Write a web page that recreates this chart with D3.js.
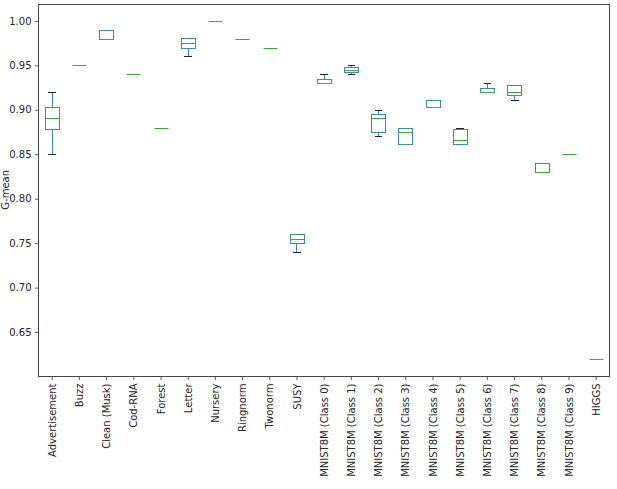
<!DOCTYPE html>
<html>
<head>
<meta charset="utf-8">
<script src="https://cdn.jsdelivr.net/npm/d3@7"></script>
<style>
  body { margin: 0; background: #fff; }
  text { font-family: "DejaVu Sans", sans-serif; }
</style>
</head>
<body>
<svg id="chart"></svg>
<script>
let width = 617;
let height = 489;
let boxColor = "#3a87bd";
let medColor = "#3aa83a";

// categories and box statistics
let categories = ["Advertisement", "Buzz", "Clean (Musk)", "Cod-RNA", "Forest", "Letter",
  "Nursery", "Ringnorm", "Twonorm", "SUSY",
  "MNIST8M (Class 0)", "MNIST8M (Class 1)", "MNIST8M (Class 2)", "MNIST8M (Class 3)",
  "MNIST8M (Class 4)", "MNIST8M (Class 5)", "MNIST8M (Class 6)", "MNIST8M (Class 7)",
  "MNIST8M (Class 8)", "MNIST8M (Class 9)", "HIGGS"];
let whiskerLow  = [0.850, 0.95, 0.98, 0.94, 0.88, 0.961, 1.00, 0.98, 0.97, 0.740, 0.930, 0.940, 0.870, 0.861, 0.903, 0.861, 0.920, 0.911, 0.83, 0.85, 0.62];
let q1          = [0.878, 0.95, 0.98, 0.94, 0.88, 0.970, 1.00, 0.98, 0.97, 0.750, 0.930, 0.942, 0.875, 0.862, 0.903, 0.861, 0.920, 0.917, 0.83, 0.85, 0.62];
let median      = [0.891, 0.95, 0.98, 0.94, 0.88, 0.975, 1.00, 0.98, 0.97, 0.755, 0.930, 0.945, 0.891, 0.875, 0.903, 0.866, 0.920, 0.920, 0.83, 0.85, 0.62];
let q3          = [0.903, 0.95, 0.99, 0.94, 0.88, 0.981, 1.00, 0.98, 0.97, 0.760, 0.935, 0.948, 0.895, 0.880, 0.911, 0.878, 0.925, 0.928, 0.84, 0.85, 0.62];
let whiskerHigh = [0.920, 0.95, 0.99, 0.94, 0.88, 0.981, 1.00, 0.98, 0.97, 0.760, 0.940, 0.950, 0.900, 0.880, 0.911, 0.880, 0.930, 0.928, 0.84, 0.85, 0.62];
let yTicks = [0.65, 0.70, 0.75, 0.80, 0.85, 0.90, 0.95, 1.00];
let yLabel = "G-mean";

let plotLeft = 38.1, plotRight = 609.3, plotTop = 4, plotBottom = 375.6;

let xax = d3.scaleLinear()
  .domain([0.5, categories.length + 0.5])
  .range([plotLeft, plotRight]);

let yax = d3.scaleLinear()
  .domain([0.601, 1.019])
  .range([plotBottom, plotTop]);

// snap to pixel centres so 1px lines stay crisp
let px = v => Math.round(v) + 0.5;

let svg = d3.select("#chart")
  .attr("width", width)
  .attr("height", height);

let data = categories.map((c, i) => ({
  pos: i + 1, lo: whiskerLow[i], q1: q1[i], med: median[i], q3: q3[i], hi: whiskerHigh[i]
}));

let boxW = (xax(1.25) - xax(0.75));
let capW = boxW / 2;

let g = svg.append("g");

// whiskers
g.selectAll(".whisker-lo").data(data).enter()
  .append("line")
  .attr("x1", d => px(xax(d.pos))).attr("x2", d => px(xax(d.pos)))
  .attr("y1", d => px(yax(d.q1))).attr("y2", d => px(yax(d.lo)))
  .attr("stroke", boxColor).attr("stroke-width", 1);
g.selectAll(".whisker-hi").data(data).enter()
  .append("line")
  .attr("x1", d => px(xax(d.pos))).attr("x2", d => px(xax(d.pos)))
  .attr("y1", d => px(yax(d.q3))).attr("y2", d => px(yax(d.hi)))
  .attr("stroke", boxColor).attr("stroke-width", 1);

// caps
["lo", "hi"].forEach(k => {
  g.selectAll(".cap-" + k).data(data).enter()
    .append("line")
    .attr("x1", d => Math.round(xax(d.pos) - capW / 2)).attr("x2", d => Math.round(xax(d.pos) + capW / 2) + 1)
    .attr("y1", d => px(yax(d[k]))).attr("y2", d => px(yax(d[k])))
    .attr("stroke", "#222").attr("stroke-width", 1);
});

// boxes
g.selectAll(".box").data(data).enter()
  .append("rect")
  .attr("x", d => px(xax(d.pos) - boxW / 2))
  .attr("y", d => px(yax(d.q3)))
  .attr("width", Math.round(boxW))
  .attr("height", d => px(yax(d.q1)) - px(yax(d.q3)))
  .attr("fill", "none")
  .attr("stroke", boxColor).attr("stroke-width", 1);

// medians
g.selectAll(".median").data(data).enter()
  .append("line")
  .attr("x1", d => px(xax(d.pos) - boxW / 2)).attr("x2", d => px(xax(d.pos) - boxW / 2) + Math.round(boxW))
  .attr("y1", d => px(yax(d.med))).attr("y2", d => px(yax(d.med)))
  .attr("stroke", medColor).attr("stroke-width", 1);

// axes
let yAxis = svg.append("g")
  .attr("transform", `translate(${px(plotLeft)},0)`)
  .call(d3.axisLeft(yax).tickValues(yTicks).tickFormat(d3.format(".2f")).tickSize(3.5).tickPadding(3.5));

let xAxis = svg.append("g")
  .attr("transform", `translate(0,${px(plotBottom)})`)
  .call(d3.axisBottom(xax).tickValues(data.map(d => d.pos)).tickFormat((d, i) => categories[i]).tickSize(3.5));

[yAxis, xAxis].forEach(a => {
  a.select(".domain").remove();
  a.selectAll("line").attr("stroke", "#333").attr("stroke-width", 0.8);
  a.selectAll("text").attr("font-size", 10).attr("fill", "#262626")
    .attr("font-family", "'DejaVu Sans', sans-serif");
});

xAxis.selectAll("text")
  .attr("transform", "rotate(-90)")
  .attr("text-anchor", "end")
  .attr("x", -7)
  .attr("y", 0)
  .attr("dy", "0.35em");

// frame
svg.append("rect")
  .attr("x", px(plotLeft)).attr("y", px(plotTop))
  .attr("width", Math.round(plotRight - plotLeft)).attr("height", Math.round(plotBottom - plotTop))
  .attr("fill", "none")
  .attr("stroke", "#444").attr("stroke-width", 1);

svg.append("text")
  .text(yLabel)
  .attr("transform", `translate(9,${(plotTop + plotBottom) / 2}) rotate(-90)`)
  .attr("text-anchor", "middle")
  .attr("font-size", 10)
  .attr("fill", "#262626");
</script>
</body>
</html>
